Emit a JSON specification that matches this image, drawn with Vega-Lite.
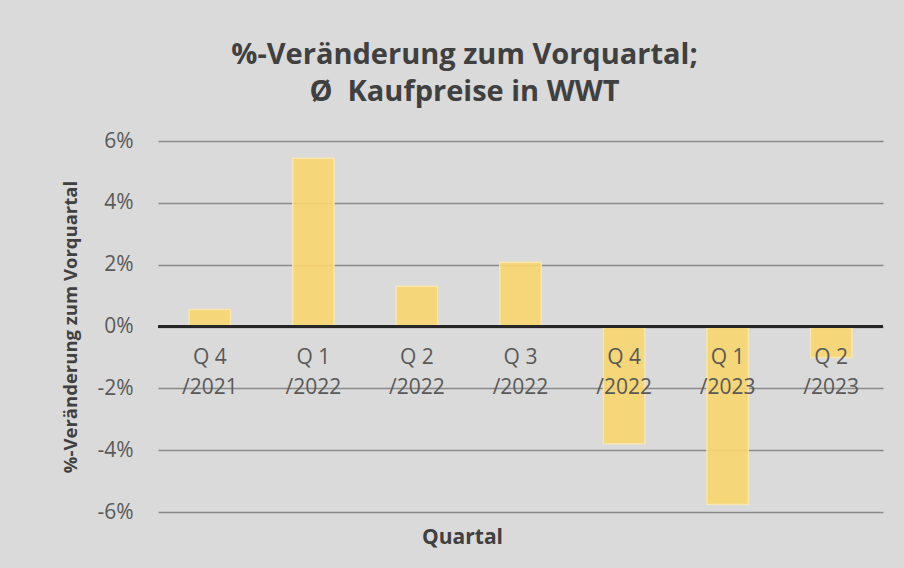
{
  "$schema": "https://vega.github.io/schema/vega-lite/v6.json",
  "autosize": {"type": "none"},
  "width": 725,
  "height": 371,
  "padding": {"left": 158, "top": 141, "right": 21, "bottom": 56},
  "background": "#dadada",
  "config": {
    "view": {"stroke": null},
    "font": "Open Sans"
  },
  "title": {
    "text": ["%-Veränderung zum Vorquartal;", "Ø\u00a0 Kaufpreise in WWT"],
    "font": "Open Sans",
    "fontSize": 29,
    "fontWeight": "bold",
    "color": "#404040",
    "lineHeight": 37,
    "anchor": "middle",
    "dx": -56,
    "offset": 23
  },
  "data": {
    "values": [
      {"quarter": "Q 4\n/2021", "change": 0.0055},
      {"quarter": "Q 1\n/2022", "change": 0.0544},
      {"quarter": "Q 2\n/2022", "change": 0.0130},
      {"quarter": "Q 3\n/2022", "change": 0.0208},
      {"quarter": "Q 4\n/2022", "change": -0.0379},
      {"quarter": "Q 1\n/2023", "change": -0.0576},
      {"quarter": "Q 2\n/2023", "change": -0.0100}
    ]
  },
  "encoding": {
    "x": {
      "field": "quarter",
      "type": "nominal",
      "sort": null,
      "scale": {"paddingInner": 0.6, "paddingOuter": 0.3},
      "axis": {
        "title": "Quartal",
        "labels": false,
        "ticks": false,
        "domain": false,
        "titleFont": "Open Sans",
        "titleFontSize": 21,
        "titleFontWeight": "bold",
        "titleColor": "#404040",
        "titleX": 304,
        "titleAnchor": null,
        "titleAlign": "center",
        "titlePadding": 14
      }
    }
  },
  "layer": [
    {
      "mark": {"type": "bar", "color": "#f9d66e", "opacity": 0.9, "stroke": "#fbe8ad", "strokeWidth": 1.5},
      "encoding": {
        "y": {
          "field": "change",
          "type": "quantitative",
          "scale": {"domain": [-0.06, 0.06], "nice": false, "zero": true},
          "axis": {
            "values": [-0.06, -0.04, -0.02, 0, 0.02, 0.04, 0.06],
            "format": ".0%",
            "labelExpr": "replace(datum.label, '\u2212', '-')",
            "title": "%-Veränderung zum Vorquartal",
            "titleFont": "Open Sans",
            "titleFontSize": 18.5,
            "titleFontWeight": "bold",
            "titleColor": "#404040",
            "titleX": -88,
            "titleY": 185.5,
            "titleAngle": -90,
            "titleAlign": "center",
            "titleBaseline": "middle",
            "labelFont": "Open Sans",
            "labelFontSize": 21,
            "labelColor": "#595959",
            "labelPadding": 25,
            "ticks": false,
            "domain": false,
            "grid": true,
            "gridColor": "#8a8a8a",
            "gridWidth": 1.6
          }
        }
      }
    },
    {
      "mark": {"type": "rule", "color": "#262626", "strokeWidth": 3},
      "encoding": {"y": {"datum": 0}, "x": {"value": 0}, "x2": {"value": 725}}
    },
    {
      "mark": {
        "type": "text",
        "font": "Open Sans",
        "fontSize": 21,
        "color": "#595959",
        "baseline": "alphabetic",
        "align": "center",
        "lineBreak": "\n",
        "lineHeight": 30,
        "dy": 37
      },
      "encoding": {
        "y": {"datum": 0},
        "text": {"field": "quarter"}
      }
    }
  ]
}
